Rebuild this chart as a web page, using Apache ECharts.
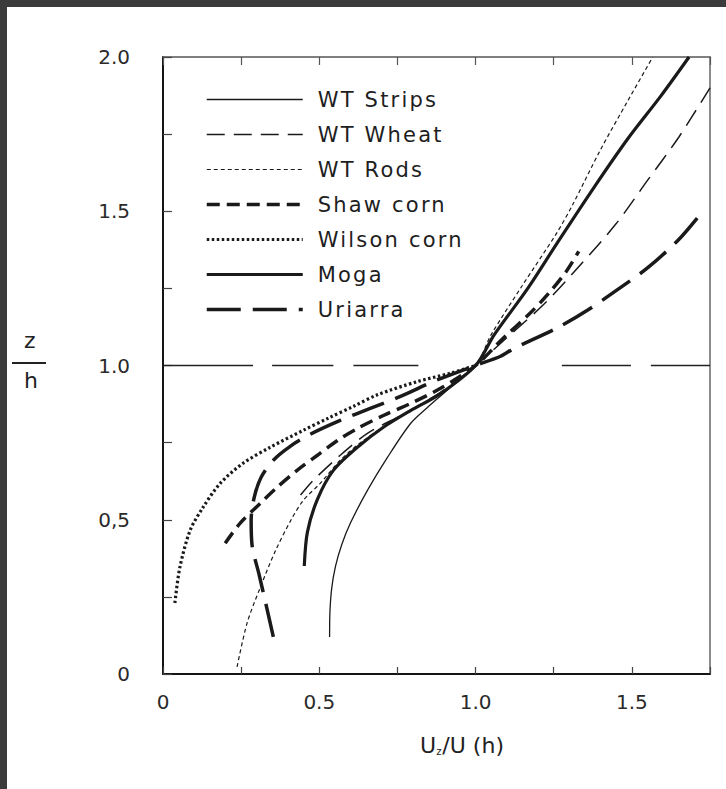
<!DOCTYPE html>
<html>
<head>
<meta charset="utf-8">
<script src="https://cdn.jsdelivr.net/npm/echarts@6/dist/echarts.min.js"></script>
<style>
  html, body { margin: 0; padding: 0; width: 726px; height: 789px; overflow: hidden; background: #3b3b3b; }
  #chart { position: absolute; left: 7px; top: 7px; width: 719px; height: 782px; background: #ffffff; }
  /* legend entries are set wide, like the printed key */
  #chart text[style*="21px"] { letter-spacing: 2.2px; }
</style>
</head>
<body>
<div id="chart"></div>
<script>
// Normalised mean wind-speed profiles: U(z)/U(h) against z/h for seven canopies.
const seriesNames = ['WT Strips', 'WT Wheat', 'WT Rods', 'Shaw corn', 'Wilson corn', 'Moga', 'Uriarra'];

// [U/U(h), z/h]
const wtStrips = [[0.533, 0.12], [0.534, 0.2], [0.54, 0.28], [0.552, 0.35], [0.572, 0.42], [0.6, 0.49],
  [0.654, 0.595], [0.718, 0.702], [0.792, 0.812], [0.846, 0.864], [0.897, 0.909], [0.96, 0.965], [1, 1]];
const wtWheat = [[0.44, 0.58], [0.481, 0.628], [0.567, 0.709], [0.654, 0.78], [0.76, 0.838], [0.888, 0.913], [1, 1],
  [1.1, 1.09], [1.22, 1.2], [1.33, 1.32], [1.45, 1.46], [1.55, 1.6], [1.65, 1.74], [1.75, 1.9]];
const wtRods = [[0.237, 0.023], [0.269, 0.165], [0.311, 0.28], [0.36, 0.4], [0.41, 0.5], [0.449, 0.563], [0.503, 0.618],
  [0.567, 0.693], [0.641, 0.757], [0.76, 0.835], [0.87, 0.9], [1, 1], [1.05, 1.1], [1.15, 1.26], [1.26, 1.43],
  [1.31, 1.52], [1.4, 1.7], [1.487, 1.858], [1.567, 2.0]];
const shawCorn = [[0.199, 0.424], [0.247, 0.489], [0.311, 0.553], [0.365, 0.605], [0.429, 0.66], [0.494, 0.709],
  [0.558, 0.757], [0.622, 0.796], [0.705, 0.838], [0.792, 0.877], [0.888, 0.926], [1, 1], [1.09, 1.09],
  [1.17, 1.165], [1.235, 1.235], [1.29, 1.305], [1.33, 1.37]];
const wilsonCorn = [[0.038, 0.23], [0.054, 0.346], [0.087, 0.466], [0.128, 0.54], [0.183, 0.618], [0.256, 0.683],
  [0.343, 0.735], [0.449, 0.79], [0.53, 0.83], [0.61, 0.868], [0.686, 0.905], [0.814, 0.948], [0.92, 0.975], [1, 1]];
const moga = [[0.452, 0.35], [0.462, 0.46], [0.494, 0.566], [0.545, 0.66], [0.622, 0.735], [0.705, 0.8],
  [0.792, 0.854], [0.888, 0.909], [1, 1], [1.06, 1.1], [1.167, 1.25], [1.263, 1.4], [1.378, 1.576],
  [1.487, 1.735], [1.593, 1.874], [1.683, 2.0]];
const uriarra = [[0.353, 0.12], [0.33, 0.223], [0.308, 0.32], [0.285, 0.417], [0.282, 0.498], [0.292, 0.573],
  [0.314, 0.638], [0.353, 0.693], [0.407, 0.738], [0.471, 0.777], [0.567, 0.822], [0.663, 0.861], [0.76, 0.9],
  [0.872, 0.951], [1, 1], [1.08, 1.03], [1.122, 1.055], [1.263, 1.123], [1.359, 1.18], [1.46, 1.25],
  [1.551, 1.317], [1.647, 1.405], [1.715, 1.485]];

// canopy top z = h, drawn as a broken line (gaps given as null heights)
const canopyTop = [[0, 1], [0.288, 1], [0.32, null], [0.349, 1], [0.545, 1], [0.58, null], [0.609, 1], [0.817, 1],
  [1.0, null], [1.276, 1], [1.497, 1], [1.53, null], [1.561, 1], [1.75, 1]];

// tick labels
const xTickValues = [0, 0.5, 1, 1.5];
const xTickText = ['0', '0.5', '1.0', '1.5'];
const yTickValues = [0, 0.5, 1, 1.5, 2];
const yTickText = ['0', '0,5', '1.0', '1.5', '2.0'];

function tickLabel(values, texts) {
  return function (v) {
    for (let i = 0; i < values.length; i++) {
      if (Math.abs(values[i] - v) < 1e-6) return texts[i];
    }
    return '';
  };
}

const ink = '#1a1a1a';
const lineStyles = [
  { width: 1.3, type: 'solid' },
  { width: 1.5, type: [18, 9] },
  { width: 1.2, type: [4, 3] },
  { width: 3.5, type: [13, 7] },
  { width: 3.2, type: [2.5, 2.5] },
  { width: 3.2, type: 'solid' },
  { width: 3.5, type: [34, 12] }
];
const seriesData = [wtStrips, wtWheat, wtRods, shawCorn, wilsonCorn, moga, uriarra];

const chart = echarts.init(document.getElementById('chart'), null, { renderer: 'svg' });

const labelFont = { fontSize: 20, fontFamily: 'DejaVu Sans', color: '#2a2a2a' };

const series = seriesNames.map(function (name, i) {
  return {
    name: name,
    type: 'line',
    data: seriesData[i],
    symbol: 'none',
    smooth: 0.3,
    color: ink,
    lineStyle: { color: ink, width: lineStyles[i].width, type: lineStyles[i].type, cap: 'butt' },
    z: 3
  };
});
series.unshift({
  name: 'z = h',
  type: 'line',
  data: canopyTop,
  symbol: 'none',
  connectNulls: false,
  silent: true,
  color: '#222',
  lineStyle: { color: '#222', width: 1.6 },
  z: 2
});

// ticks point into the plotting frame
chart.setOption({
  animation: false,
  backgroundColor: '#ffffff',
  grid: { left: 156, right: 16, top: 50, bottom: 115, containLabel: false },
  legend: {
    orient: 'vertical',
    left: 193,
    top: 77,
    itemWidth: 96,
    itemHeight: 14,
    itemGap: 14,
    selectedMode: false,
    data: seriesNames,
    textStyle: { fontSize: 21, fontFamily: 'DejaVu Sans', color: '#1e1e1e', padding: [0, 0, 0, 10] },
    lineStyle: { width: 'inherit' },
    itemStyle: { opacity: 0 }
  },
  xAxis: [
    {
      type: 'value', position: 'bottom', min: 0, max: 1.75, interval: 0.25,
      axisLine: { show: true, onZero: false, lineStyle: { color: '#151515', width: 2 } },
      axisTick: { show: true, inside: true, length: 7, lineStyle: { color: '#444', width: 1.2 } },
      axisLabel: Object.assign({ formatter: tickLabel(xTickValues, xTickText), margin: 18, showMinLabel: true, showMaxLabel: true }, labelFont),
      splitLine: { show: false },
      name: '{u|U}{s|z}{u|/U (h)}',
      nameLocation: 'middle',
      nameGap: 60,
      nameTextStyle: {
        padding: [0, 0, 0, 51],
        rich: {
          u: { fontSize: 22, fontFamily: 'DejaVu Sans', color: '#222' },
          s: { fontSize: 10, fontFamily: 'DejaVu Sans', color: '#222', padding: [12, 1, 0, 0] }
        }
      }
    },
    {
      type: 'value', position: 'top', min: 0, max: 1.75, interval: 0.25,
      axisLine: { show: true, onZero: false, lineStyle: { color: '#555', width: 1.5 } },
      axisTick: { show: true, inside: true, length: 8, lineStyle: { color: '#555', width: 1.2 } },
      axisLabel: { show: false },
      splitLine: { show: false }
    }
  ],
  yAxis: [
    {
      type: 'value', position: 'left', min: 0, max: 2, interval: 0.25,
      axisLine: { show: true, onZero: false, lineStyle: { color: '#151515', width: 2 } },
      axisTick: { show: true, inside: true, length: 9, lineStyle: { color: '#444', width: 1.2 } },
      axisLabel: Object.assign({ formatter: tickLabel(yTickValues, yTickText), margin: 33, showMinLabel: true, showMaxLabel: true }, labelFont),
      splitLine: { show: false }
    },
    {
      type: 'value', position: 'right', min: 0, max: 2, interval: 0.25,
      axisLine: { show: true, onZero: false, lineStyle: { color: '#666', width: 1.5 } },
      axisTick: { show: false },
      axisLabel: { show: false },
      splitLine: { show: false }
    }
  ],
  graphic: [
    { type: 'text', left: 17, top: 322, style: { text: 'z', fontSize: 22, fontFamily: 'DejaVu Sans', fill: '#222' } },
    { type: 'line', shape: { x1: 5, y1: 356, x2: 39, y2: 356 }, style: { stroke: '#222', lineWidth: 2 } },
    { type: 'text', left: 17, top: 362, style: { text: 'h', fontSize: 22, fontFamily: 'DejaVu Sans', fill: '#222' } }
  ],
  series: series
});
</script>
</body>
</html>
